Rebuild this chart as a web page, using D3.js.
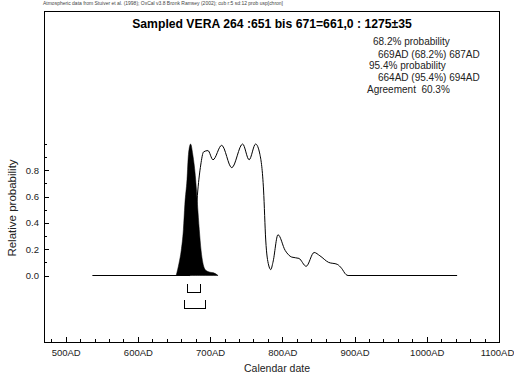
<!DOCTYPE html>
<html>
<head>
<meta charset="utf-8">
<script src="https://cdn.jsdelivr.net/npm/d3@7"></script>
<style>
  body { margin: 0; background: #fff; }
  svg { display: block; font-family: "Liberation Sans", Arial, sans-serif; }
  text { white-space: pre; }
</style>
</head>
<body>
<div id="chart"></div>
<script>
// prior (unmodelled) distribution, calendar years AD and relative probability
var priorYears = [537, 672, 678, 683, 687, 691, 697, 704, 716, 730, 745, 754, 763, 769, 774, 777, 781, 784, 787, 794, 804, 813, 823, 833, 844, 852, 864, 876, 882, 888, 891, 1042];
var priorProb  = [0, 0, 0.27, 0.65, 0.84, 0.94, 0.95, 0.88, 0.99, 0.82, 1.0, 0.88, 1.0, 0.92, 0.65, 0.27, 0.08, 0.045, 0.10, 0.31, 0.19, 0.14, 0.13, 0.07, 0.175, 0.15, 0.10, 0.085, 0.055, 0.008, 0, 0];

// posterior (sampled) distribution, filled black
var postYears = [653, 657, 660, 663, 665, 668, 670, 673, 676, 680, 682.5, 685, 687.5, 690, 694, 700, 705, 711];
var postProb  = [0, 0.095, 0.19, 0.35, 0.54, 0.73, 0.92, 1.0, 0.92, 0.73, 0.54, 0.35, 0.19, 0.095, 0.04, 0.025, 0.02, 0];

var range68 = [669, 687];
var range95 = [664, 694];

var xMajor = [500, 600, 700, 800, 900, 1000, 1100];
var yMajor = [0, 0.2, 0.4, 0.6, 0.8];

var title = "Sampled VERA 264 :651 bis 671=661,0 : 1275\u00b135";
var infoLines = ["68.2% probability", "669AD (68.2%) 687AD", "95.4% probability", "664AD (95.4%) 694AD", "Agreement  60.3%"];
var creditLine = "Atmospheric data from Stuiver et al. (1998); OxCal v3.8 Bronk Ramsey (2002); cub r:5 sd:12 prob usp[chron]";

var width = 514, height = 377;
var box = {left: 44, right: 499, top: 11, bottom: 342};

var svg = d3.select("#chart").append("svg").attr("width", width).attr("height", height);

var x = d3.scaleLinear().domain([470, 1100]).range([box.left, box.right]);
var y = d3.scaleLinear().domain([0, 1]).range([275.5, 144]);

// frame
svg.append("rect")
   .attr("x", box.left).attr("y", box.top)
   .attr("width", box.right - box.left).attr("height", box.bottom - box.top)
   .attr("fill", "none").attr("stroke", "#000").attr("shape-rendering", "crispEdges");

// x axis, minor then major
var xMinor = d3.range(480, 1101, 20);
var gxm = svg.append("g").attr("transform", "translate(0," + box.bottom + ")")
   .call(d3.axisBottom(x).tickValues(xMinor).tickSize(-3).tickFormat(""));
var gx = svg.append("g").attr("transform", "translate(0," + box.bottom + ")")
   .call(d3.axisBottom(x).tickValues(xMajor).tickSize(-5).tickPadding(7).tickFormat(function(d){ return d + "AD"; }));

// y axis
var yMinor = d3.range(0, 1.01, 0.1);
var gym = svg.append("g").attr("transform", "translate(" + box.left + ",0)")
   .call(d3.axisLeft(y).tickValues(yMinor).tickSize(-3).tickFormat(""));
var gy = svg.append("g").attr("transform", "translate(" + box.left + ",0)")
   .call(d3.axisLeft(y).tickValues(yMajor).tickSize(-5).tickPadding(5).tickFormat(d3.format(".1f")));

[gxm, gx, gym, gy].forEach(function(g){
  g.select(".domain").remove();
  g.selectAll("line").attr("shape-rendering", "crispEdges");
  g.selectAll("text").attr("font-family", "Liberation Sans, Arial, sans-serif").attr("font-size", 9.5).attr("fill", "#222");
});
// keep the last label inside the page
gx.selectAll("text").filter(function(d){ return d === 1100; }).attr("dx", -2);

// axis titles
svg.append("text").attr("x", 277).attr("y", 372).attr("text-anchor", "middle")
   .attr("font-size", 10.5).attr("fill", "#222").text("Calendar date");
svg.append("text").attr("transform", "translate(16,208) rotate(-90)").attr("text-anchor", "middle")
   .attr("font-size", 11.5).attr("fill", "#222").text("Relative probability");

// title and notes
svg.append("text").attr("x", 272).attr("y", 28).attr("text-anchor", "middle")
   .attr("font-size", 12.2).attr("font-weight", "bold").text(title);
svg.append("text").attr("x", 43).attr("y", 5).attr("font-size", 4.6).attr("fill", "#444")
   .attr("textLength", 240).attr("lengthAdjust", "spacingAndGlyphs").text(creditLine);

var infoX = [373, 378, 369, 378, 367];
var infoY = [45, 58, 69, 81, 93];
svg.selectAll(".info").data(infoLines).enter().append("text")
   .attr("class", "info")
   .attr("x", function(d, i){ return infoX[i]; })
   .attr("y", function(d, i){ return infoY[i]; })
   .attr("font-size", 10).attr("fill", "#222")
   .text(function(d){ return d; });

// prior line
var priorData = priorYears.map(function(d, i){ return [d, priorProb[i]]; });
var line = d3.line().x(function(d){ return x(d[0]); }).y(function(d){ return y(d[1]); })
   .curve(d3.curveMonotoneX);
svg.append("path").datum(priorData).attr("d", line)
   .attr("fill", "none").attr("stroke", "#000").attr("stroke-width", 1);

// posterior filled
var postData = postYears.map(function(d, i){ return [d, postProb[i]]; });
var area = d3.area().x(function(d){ return x(d[0]); }).y0(y(0)).y1(function(d){ return y(d[1]); })
   .curve(d3.curveMonotoneX);
svg.append("path").datum(postData).attr("d", area).attr("fill", "#000").attr("stroke", "#000").attr("stroke-width", 0.5);

// range brackets
function bracket(r, top, bot){
  svg.append("path")
     .attr("d", "M" + x(r[0]) + "," + top + "V" + bot + "H" + x(r[1]) + "V" + top)
     .attr("fill", "none").attr("stroke", "#000").attr("shape-rendering", "crispEdges");
}
bracket(range68, 284, 292);
bracket(range95, 300, 308);
</script>
</body>
</html>
